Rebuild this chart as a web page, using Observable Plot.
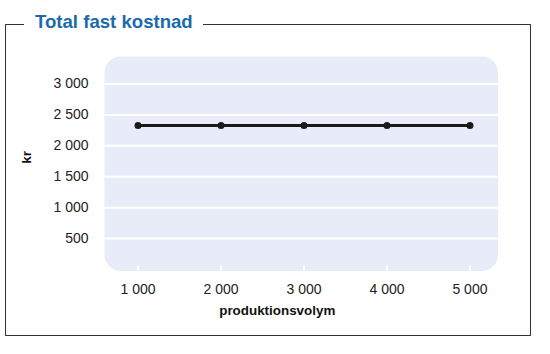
<!DOCTYPE html>
<html>
<head>
<meta charset="utf-8">
<script src="https://cdn.jsdelivr.net/npm/d3@7"></script>
<script src="https://cdn.jsdelivr.net/npm/@observablehq/plot@0.6"></script>
<style>
  html, body { margin: 0; padding: 0; background: #fff; }
  #wrap { position: relative; width: 550px; height: 354px; font-family: "Liberation Sans", Arial, Helvetica, sans-serif; }
  #box { position: absolute; left: 5px; top: 24px; width: 524px; height: 310px; border: 1.5px solid #333; box-sizing: content-box; }
  #title { position: absolute; left: 24px; top: 11px; padding: 0 10px 0 11px; background: #fff; color: #1a6aad; font-weight: bold; font-size: 18.6px; line-height: 22px; }
  #chart { position: absolute; left: 0; top: 0; }
</style>
</head>
<body>
<div id="wrap">
  <div id="box"></div>
  <div id="title">Total fast kostnad</div>
  <div id="chart"></div>
</div>
<script>
const volumes = [1000, 2000, 3000, 4000, 5000];
const costs = [2330, 2330, 2330, 2330, 2330];
const yTicks = [500, 1000, 1500, 2000, 2500, 3000];
const xTicks = [1000, 2000, 3000, 4000, 5000];
const xLabel = "produktionsvolym";
const yLabel = "kr";

const data = volumes.map((v, i) => ({volym: v, kr: costs[i]}));
const fmt = d => d3.format(",")(d).replace(/,/g, " ");

const chart = Plot.plot({
  width: 550,
  height: 354,
  marginLeft: 104,
  marginRight: 52.5,
  marginTop: 56,
  marginBottom: 83.5,
  style: {fontFamily: '"Liberation Sans", Arial, Helvetica, sans-serif', fontSize: "14px", color: "#222", background: "transparent", overflow: "visible"},
  x: {domain: [596, 5338]},
  y: {domain: [-25, 3445]},
  marks: [
    Plot.frame({fill: "#e8ecf8", stroke: null, rx: 16}),
    Plot.ruleY(yTicks, {stroke: "white", strokeWidth: 2}),
    Plot.axisX(xTicks, {tickSize: -5, stroke: "white", strokeWidth: 2, text: null, label: null}),
    Plot.axisX(xTicks, {tickSize: 0, tickPadding: 13.5, tickFormat: fmt, fontSize: 14, fill: "#222", label: null}),
    Plot.axisY(yTicks, {tickSize: 0, tickPadding: 16, tickFormat: fmt, fontSize: 14, fill: "#222", label: null}),
    Plot.line(data, {x: "volym", y: "kr", stroke: "#1a1a1a", strokeWidth: 3}),
    Plot.dot(data, {x: "volym", y: "kr", fill: "#1a1a1a", r: 3.5}),
    Plot.text([xLabel], {frameAnchor: "bottom", text: d => d, dy: 44, dx: -24, fontWeight: "bold", fontSize: 13.4, fill: "#111"}),
    Plot.text([yLabel], {frameAnchor: "left", text: d => d, dx: -78, rotate: -90, fontWeight: "bold", fontSize: 13.4, fill: "#111"})
  ]
});
document.getElementById("chart").appendChild(chart);
</script>
</body>
</html>
